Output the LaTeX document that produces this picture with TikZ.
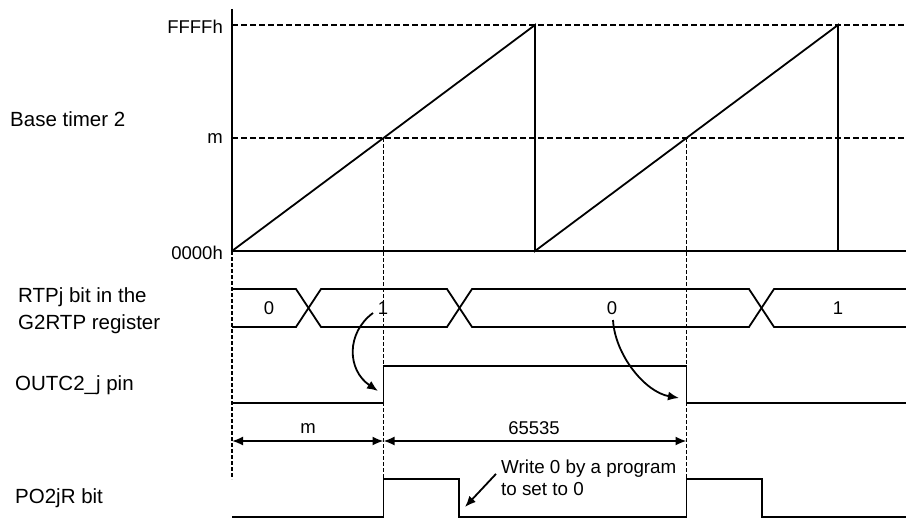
\documentclass[tikz,border=0pt]{standalone}
\usepackage{fontspec}
\setmainfont{Liberation Sans}
\usepackage{tikz}
\usetikzlibrary{positioning, arrows.meta}

\tikzset{
  sig/.style={line width=1.8pt},
  level/.style={line width=2.2pt, dash pattern=on 6pt off 3pt},
  guide/.style={line width=1.2pt, dash pattern=on 4pt off 2pt},
  rowlabel/.style={font=\fontsize{20.5}{27}\selectfont, inner sep=0pt, align=left},
  val/.style={font=\fontsize{18.5}{22}\selectfont, inner sep=0pt},
  arr/.style={sig, -{Latex[length=11pt,width=9pt]}},
  dim/.style={sig, {Latex[length=11pt,width=9pt]}-{Latex[length=11pt,width=9pt]}}
}

\begin{document}
\begin{tikzpicture}[x=1pt, y=-1pt]
          \useasboundingbox (0,0) rectangle (906,519);
          % row labels
          \node[rowlabel, anchor=west] (lblTimer) at (10,119) {Base timer 2};
          \node[rowlabel, anchor=north west] (lblRtp) at (18,287.3) {RTPj bit in the\\G2RTP register};
          \node[rowlabel, anchor=west] (lblOut) at (15,385.3) {OUTC2\_j pin};
          \node[rowlabel, anchor=west] (lblPo) at (15,498.6) {PO2jR bit};
          % base timer 2
          \begin{scope}
            \draw[level] (232,25) -- (906,25);
            \draw[level] (232,138) -- (906,138);
            \draw[sig] (232,9) -- (232,251) -- (906,251);
            \draw[sig] (232,251) -- (535,25) -- (535,251) -- (838,25) -- (838,251);
            \node[val, anchor=east] (tmax) at (223,27) {FFFFh};
            \node[val, anchor=east] (tm) at (223,139) {m};
            \node[val, anchor=east] (tmin) at (223,253) {0000h};
          \end{scope}
          % guide lines
          \draw[guide] (232,251) -- (232,479);
          \draw[guide] (383.5,138) -- (383.5,479);
          \draw[guide] (686.5,138) -- (686.5,479);
          % RTPj bus
          \draw[sig] (232,289) -- (296,289) -- (321,327) -- (447,327) -- (472,289) -- (749,289) -- (774,327) -- (906,327);
          \draw[sig] (232,327) -- (296,327) -- (321,289) -- (447,289) -- (472,327) -- (749,327) -- (774,289) -- (906,289);
          \node[val] (rtpA) at (269,308) {0};
          \node[val] (rtpB) at (383,308) {1};
          \node[val] (rtpC) at (612,308) {0};
          \node[val] (rtpD) at (838,308) {1};
          % OUTC2_j
          \draw[sig] (232,403) -- (383.5,403) -- (383.5,366) -- (686.5,366) -- (686.5,403) -- (906,403);
          \coordinate (riseOut) at (378,391);
          \coordinate (fallOut) at (679,398);
          \draw[arr] ([shift={(-10,5)}]rtpB.center) .. controls (346,333) and (347,370) .. (riseOut);
          \draw[arr] ([shift={(1,12)}]rtpC.center) .. controls (615,355) and (645,392) .. (fallOut);
          % counts
          \coordinate (dimA) at (232,441);
          \coordinate (dimB) at (383.5,441);
          \coordinate (dimC) at (686.5,441);
          \draw[dim] (dimA) -- (dimB);
          \draw[dim] (dimB) -- (dimC);
          \node[val] (cntM) at (308,429) {m};
          \node[val] (cntFull) at (534,428) {65535};
          % PO2jR
          \draw[sig] (232,517) -- (383.5,517) -- (383.5,479) -- (459,479) -- (459,517) -- (686.5,517) -- (686.5,479) -- (762,479) -- (762,517) -- (906,517);
          \node[font=\fontsize{18.8}{22.4}\selectfont, inner sep=0pt, align=left, anchor=north west] (note) at (501,459.6) {Write 0 by a program\\to set to 0};
          \coordinate (noteTip) at (465,507);
          \draw[arr] ([shift={(-5,-4)}]note.west) -- (noteTip);
        \end{tikzpicture}
\end{document}
